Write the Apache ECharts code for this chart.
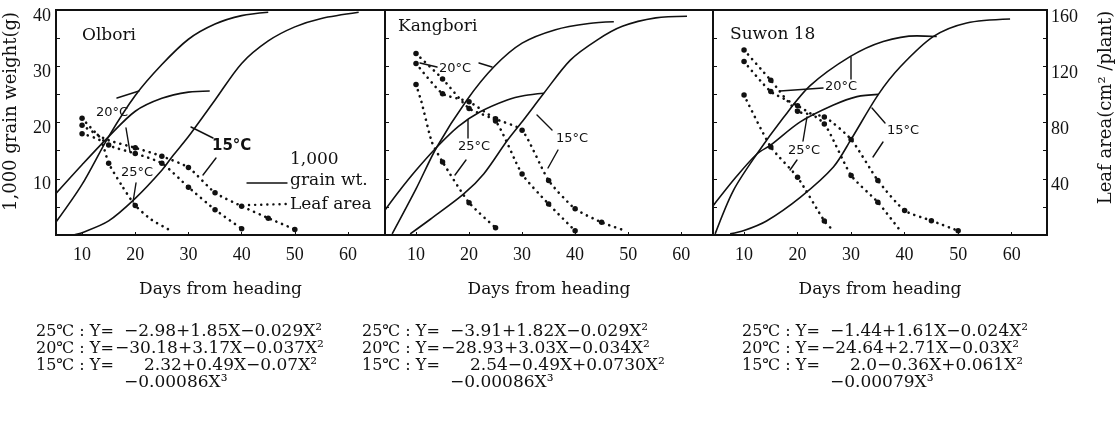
<!DOCTYPE html>
<html>
<head>
<meta charset="utf-8">
<script src="https://cdn.jsdelivr.net/npm/echarts@6/dist/echarts.min.js"></script>
<style>
  html, body { margin: 0; padding: 0; background: #fff; }
  #chart { width: 1117px; height: 421px; }
</style>
</head>
<body>
<div id="chart"></div>
<script>
// days from heading vs 1,000 grain weight (g) -- solid curves
const olboriGrain25 = [[5.1, 7.4], [10, 12.5], [15, 17.5], [20, 22], [25, 24.3], [30, 25.4], [34, 25.6]];
const olboriGrain20 = [[5.1, 2.3], [10, 9], [15, 17.5], [20, 24.8], [25, 30.3], [30, 34.8], [35, 37.5], [40, 39], [45, 39.6]];
const olboriGrain15 = [[8.4, 0], [10, 0.4], [15, 2.5], [20, 6.5], [25, 11.5], [27, 14], [30, 17.5], [35, 24], [40, 30.5], [45, 34.5], [50, 37], [55, 38.5], [62, 39.6]];

const kangboriGrain25 = [[4.2, 4.5], [6.4, 7.3], [10, 11.5], [13.9, 15.6], [18, 19.3], [22.1, 21.9], [27.2, 24], [30.5, 24.8], [34.1, 25.2]];
const kangboriGrain20 = [[5.5, 0.2], [10, 8.2], [13.9, 15.6], [19.6, 24], [24.7, 29.9], [30, 34.1], [36.3, 36.5], [42.6, 37.6], [47.3, 37.9]];
const kangboriGrain15 = [[8.9, 0.2], [12.7, 2.8], [19, 7.3], [22.8, 10.9], [27.2, 16.8], [30.3, 20.5], [34.1, 25.2], [39.1, 31.1], [44.2, 34.7], [48.9, 37.1], [55.2, 38.6], [61.1, 38.9]];

const suwonGrain25 = [[4.3, 5.3], [8.5, 10.3], [12.4, 14.4], [15, 16], [20.5, 20.1], [26.7, 23.1], [31.1, 24.6], [35.1, 25]];
const suwonGrain20 = [[4.6, 0.2], [8, 7.9], [12.4, 14.4], [17.3, 20.8], [22.3, 26.5], [29.8, 31.7], [36, 34.4], [42.3, 35.4], [46, 35.3]];
const suwonGrain15 = [[7.4, 0.2], [10, 0.8], [14.2, 2.5], [20.5, 6.7], [26.7, 12.1], [30, 17], [35.1, 25], [39.2, 29.9], [45.4, 35.3], [51.6, 37.7], [59.7, 38.4]];

// days from heading vs leaf area (cm2/plant) -- dotted curves
const olboriLeaf25 = [[10, 72], [13.5, 67], [15, 51], [17.5, 35], [20, 21], [23, 11], [26.5, 3.5]];
const olboriLeaf20 = [[10, 83], [15, 64], [20, 58], [25, 51], [30, 34], [35, 18], [40, 4.5]];
const olboriLeaf15 = [[10, 78], [14.5, 68], [20, 62], [25, 56], [30, 48], [35, 30], [40, 20.5], [45, 12], [50, 4]];

const kangboriLeaf25 = [[10, 107], [11, 95], [13, 66], [15, 52], [20, 23], [25, 5.2]];
const kangboriLeaf20 = [[10, 129], [15, 111], [20, 90], [25, 81], [30, 43.3], [35, 22], [40, 3]];
const kangboriLeaf15 = [[10, 122], [15, 100.5], [20, 94.7], [25, 82.6], [30, 74.5], [35, 38.8], [40, 18.6], [45, 9], [49.5, 3]];

const suwonLeaf25 = [[10, 99.5], [15, 62.6], [20, 41], [25, 10], [26.7, 3]];
const suwonLeaf20 = [[10, 123.3], [15, 102], [20, 92], [25, 79], [30, 42.4], [35, 23.3], [39.2, 3]];
const suwonLeaf15 = [[10, 131.6], [15, 110], [20, 88], [25, 84], [30, 68], [35, 38.8], [40, 17.4], [45, 10.2], [50, 3]];

const dayTicks = [10, 20, 30, 40, 50, 60];
const cultivars = ['Olbori', 'Kangbori', 'Suwon 18'];
const temps = ['25℃', '20℃', '15℃'];

// regression equations under each panel
const olboriEq = ['−2.98+1.85X−0.029X²', '−30.18+3.17X−0.037X²', '2.32+0.49X−0.07X²', '−0.00086X³'];
const kangboriEq = ['−3.91+1.82X−0.029X²', '−28.93+3.03X−0.034X²', '2.54−0.49X+0.0730X²', '−0.00086X³'];
const suwonEq = ['−1.44+1.61X−0.024X²', '−24.64+2.71X−0.03X²', '2.0−0.36X+0.061X²', '−0.00079X³'];

const SERIF = '"DejaVu Serif", "Liberation Serif", serif';
const NUM = '"Liberation Serif", "DejaVu Serif", serif';
const INK = '#111';

const panels = [
  { grain: [olboriGrain25, olboriGrain20, olboriGrain15], leaf: [olboriLeaf25, olboriLeaf20, olboriLeaf15], eq: olboriEq, left: 56, width: 329, xMin: 5.1, xMax: 66.95, eqX: 36 },
  { grain: [kangboriGrain25, kangboriGrain20, kangboriGrain15], leaf: [kangboriLeaf25, kangboriLeaf20, kangboriLeaf15], eq: kangboriEq, left: 385, width: 328, xMin: 4.15, xMax: 66.0, eqX: 362 },
  { grain: [suwonGrain25, suwonGrain20, suwonGrain15], leaf: [suwonLeaf25, suwonLeaf20, suwonLeaf15], eq: suwonEq, left: 713, width: 334, xMin: 4.2, xMax: 66.6, eqX: 742 },
];

const grids = [], xAxes = [], yAxes = [], series = [];

panels.forEach((p, i) => {
  grids.push({
    left: p.left, top: 10, width: p.width, height: 225,
    show: true, borderColor: INK, borderWidth: 2, backgroundColor: 'transparent',
    outerBoundsMode: 'none',
  });
  xAxes.push({
    type: 'value', gridIndex: i, min: p.xMin, max: p.xMax,
    name: 'Days from heading', nameLocation: 'middle', nameGap: 46,
    nameTextStyle: { fontFamily: SERIF, fontSize: 17, color: INK },
    axisLine: { show: false },
    axisTick: { show: true, inside: true, length: 3, customValues: dayTicks, lineStyle: { color: INK } },
    axisLabel: { customValues: dayTicks, margin: 11, fontFamily: NUM, fontSize: 18, color: INK },
    splitLine: { show: false },
  });
  // grain weight axis
  yAxes.push({
    type: 'value', gridIndex: i, min: 0, max: 40, interval: 5, position: 'left',
    name: i === 0 ? '1,000 grain weight(g)' : '', nameLocation: 'middle', nameGap: 36,
    nameTextStyle: { fontFamily: SERIF, fontSize: 18, color: INK, padding: [0, 0, 0, 22] },
    axisLine: { show: false },
    axisTick: { show: true, inside: true, length: 4, lineStyle: { color: INK } },
    axisLabel: {
      show: i === 0, fontFamily: NUM, fontSize: 18, color: INK, margin: 5,
      verticalAlign: 'top', lineHeight: 12,
      formatter: v => (v > 0 && v % 10 === 0 ? String(v) : ''),
    },
    splitLine: { show: false },
  });
  // leaf area axis
  yAxes.push({
    type: 'value', gridIndex: i, min: 0, max: 160, interval: 20, position: 'right',
    show: i === 2,
    name: i === 2 ? 'Leaf area(cm² /plant)' : '', nameLocation: 'middle', nameGap: 50, nameRotate: 90,
    nameTextStyle: { fontFamily: SERIF, fontSize: 18, color: INK, padding: [0, 0, 0, 30] },
    axisLine: { show: false },
    axisTick: { show: true, inside: true, length: 4, lineStyle: { color: INK } },
    axisLabel: {
      fontFamily: NUM, fontSize: 18, color: INK, margin: 4,
      verticalAlign: 'top', lineHeight: 14,
      formatter: v => (v > 0 && v % 40 === 0 ? String(v) : ''),
    },
    splitLine: { show: false },
  });

  p.grain.forEach((d, k) => {
    series.push({
      name: cultivars[i] + ' grain ' + temps[k], type: 'line', xAxisIndex: i, yAxisIndex: 2 * i,
      data: d, smooth: 0.3, showSymbol: false, silent: true,
      lineStyle: { color: INK, width: 1.6 },
    });
  });
  p.leaf.forEach((d, k) => {
    series.push({
      name: cultivars[i] + ' leaf ' + temps[k], type: 'line', xAxisIndex: i, yAxisIndex: 2 * i + 1,
      data: d, smooth: 0.2, silent: true,
      symbol: 'circle', symbolSize: v => (v[0] % 5 === 0 ? 5.5 : 0),
      itemStyle: { color: INK },
      lineStyle: { color: INK, width: 2.6, type: [0.1, 6], cap: 'round' },
    });
  });
});

// text helpers for annotations
const txt = (x, y, s, font, size, weight) => ({
  type: 'text', left: x, top: y - size * 0.6, silent: true,
  style: { text: s, fontFamily: font, fontSize: size, fontWeight: weight || 'normal', fill: INK },
});
const seg = (x1, y1, x2, y2, dash) => ({
  type: 'line', silent: true, shape: { x1, y1, x2, y2 },
  style: { stroke: INK, lineWidth: dash ? 2.4 : 1.4, lineDash: dash ? [0.1, 6] : null, lineCap: 'round' },
});

const LBL = '"DejaVu Sans", sans-serif';
const graphic = [
  txt(82, 37, 'Olbori', SERIF, 17),
  txt(398, 28, 'Kangbori', SERIF, 17),
  txt(730, 36, 'Suwon 18', SERIF, 17),

  // Olbori labels
  txt(96, 114, '20°C', LBL, 13), seg(117, 98, 139, 91),
  txt(121, 174, '25°C', LBL, 13), seg(126, 128, 130, 152), seg(136, 183, 133, 202),
  txt(212, 148, '15°C', LBL, 15, 'bold'), seg(213, 138, 191, 127), seg(216, 158, 203, 175),
  txt(290, 161, '1,000', SERIF, 17),
  txt(290, 182, 'grain wt.', SERIF, 17), seg(247, 183, 287, 183),
  txt(290, 206, 'Leaf area', SERIF, 17), seg(249, 205, 287, 204, true),

  // Kangbori labels
  txt(439, 70, '20°C', LBL, 13), seg(420, 63, 437, 67), seg(479, 63, 492, 67),
  txt(458, 148, '25°C', LBL, 13), seg(468, 138, 468, 120), seg(466, 160, 455, 175),
  txt(556, 140, '15°C', LBL, 13), seg(552, 130, 537, 115), seg(558, 150, 548, 168),

  // Suwon 18 labels
  txt(825, 88, '20°C', LBL, 13), seg(823, 88, 780, 91), seg(851, 79, 851, 57),
  txt(788, 152, '25°C', LBL, 13), seg(807, 117, 803, 141), seg(797, 160, 790, 170),
  txt(887, 132, '15°C', LBL, 13), seg(885, 123, 872, 108), seg(883, 142, 873, 157),
];

// equations
const rowY = [333, 350, 367.5, 384];
const bodyOffset = [88, 79, 108, 88];
panels.forEach(p => {
  temps.forEach((t, r) => graphic.push(txt(p.eqX, rowY[r], t + ' : Y=', SERIF, 16)));
  p.eq.forEach((s, r) => graphic.push(txt(p.eqX + bodyOffset[r], rowY[r], s, SERIF, 17)));
});

const chart = echarts.init(document.getElementById('chart'), null, { renderer: 'canvas' });
chart.setOption({
  animation: false,
  backgroundColor: '#fff',
  grid: grids,
  xAxis: xAxes,
  yAxis: yAxes,
  series: series,
  graphic: graphic,
});
</script>
</body>
</html>
